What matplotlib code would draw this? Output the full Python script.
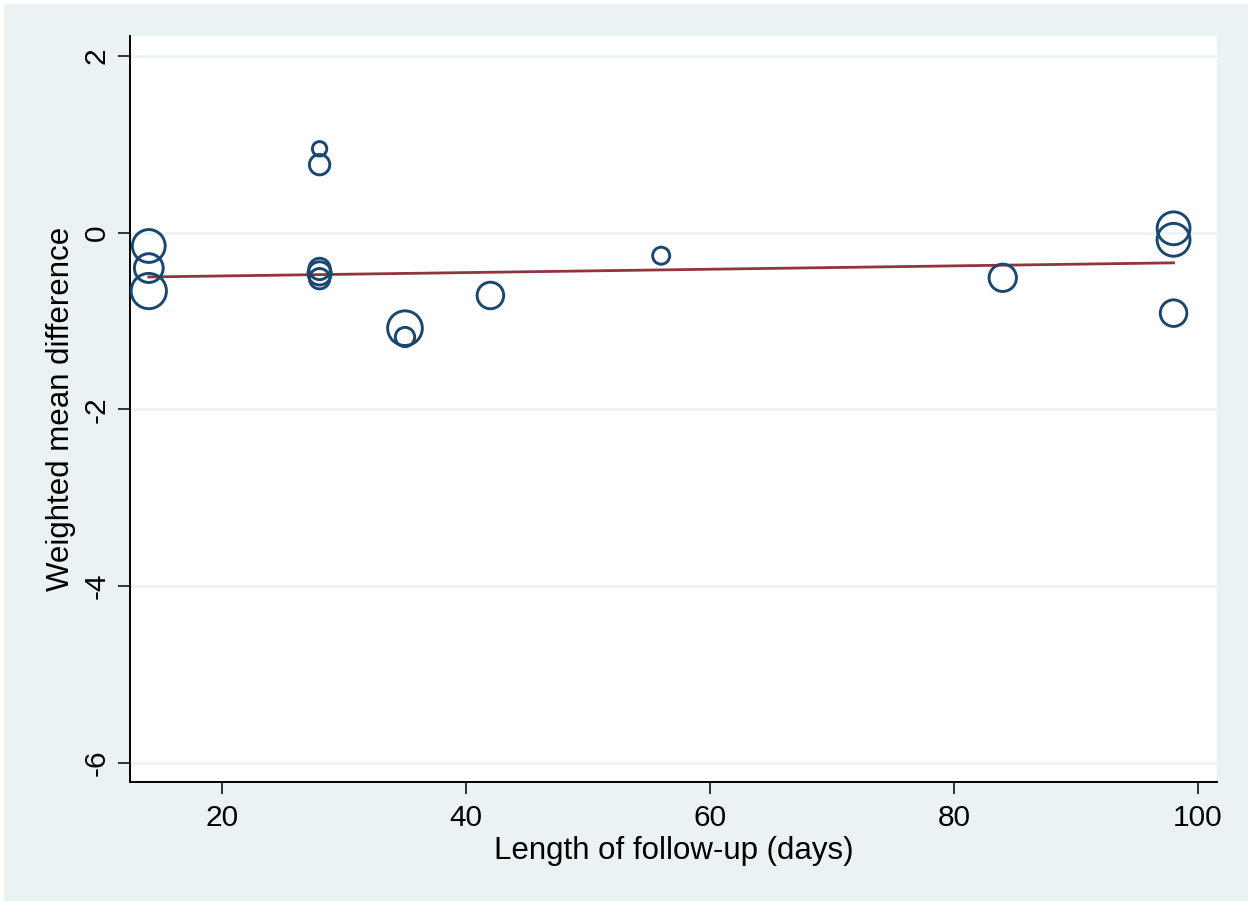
import matplotlib
matplotlib.use("Agg")
import matplotlib.pyplot as plt
from matplotlib.patches import Rectangle
import numpy as np

# follow-up length (days), weighted mean difference, study weight
followup = [14, 14, 14, 28, 28, 28, 28, 28, 35, 35, 42, 56, 84, 98, 98, 98]
wmd = [-0.15, -0.40, -0.66, 0.95, 0.77, -0.41, -0.46, -0.52,
       -1.08, -1.18, -0.71, -0.26, -0.51, 0.05, -0.08, -0.91]
weight = [2.6, 2.0, 3.0, 0.5, 1.0, 1.1, 1.3, 1.0,
          2.9, 0.9, 1.7, 0.7, 1.8, 2.6, 2.6, 1.7]

# fitted meta-regression line
fit_intercept = -0.527
fit_slope = 0.0019

xticks = [20, 40, 60, 80, 100]
yticks = [-6, -4, -2, 0, 2]

navy = "#1A476F"
maroon = "#90353B"
bg = "#EAF2F3"

plt.rcParams['font.family'] = ['Liberation Sans', 'DejaVu Sans']

fig = plt.figure(figsize=(12.54, 9.01), dpi=100, facecolor="white")
fig.patches.append(Rectangle((4 / 1254, 0), 1244 / 1254, 897 / 901,
                             transform=fig.transFigure, facecolor=bg,
                             edgecolor="none", zorder=-10))

ax = fig.add_axes([130 / 1254, 1 - 782 / 901, 1087 / 1254, 746 / 901])
ax.set_facecolor("white")

ax.set_xlim(12.46, 101.56)
ax.set_ylim(-6.215, 2.226)

for yt in yticks:
    ax.axhline(yt, color=bg, lw=1.8, zorder=0)

ax.scatter(followup, wmd, s=np.array(weight) * 215, facecolors="none",
           edgecolors=navy, linewidths=2.1, zorder=3)

xs = np.array([min(followup), max(followup)])
ax.plot(xs, fit_intercept + fit_slope * xs, color=maroon, lw=2.0, zorder=2)

ax.set_xticks(xticks)
ax.set_yticks(yticks)
ax.set_yticklabels([str(v) for v in yticks], rotation=90, va="center")
ax.tick_params(axis="both", labelsize=21.5, length=8.8, width=1.1,
               direction="out", color="black")
ax.tick_params(axis="x", pad=7)
ax.tick_params(axis="y", pad=5)

for s in ["top", "right"]:
    ax.spines[s].set_visible(False)
for s in ["left", "bottom"]:
    ax.spines[s].set_linewidth(1.4)

ax.set_xlabel("Length of follow-up (days)", fontsize=22.5, labelpad=3)
ax.set_ylabel("Weighted mean difference", fontsize=22.5, labelpad=5)

fig.savefig("out.png", dpi=100, facecolor="white")
